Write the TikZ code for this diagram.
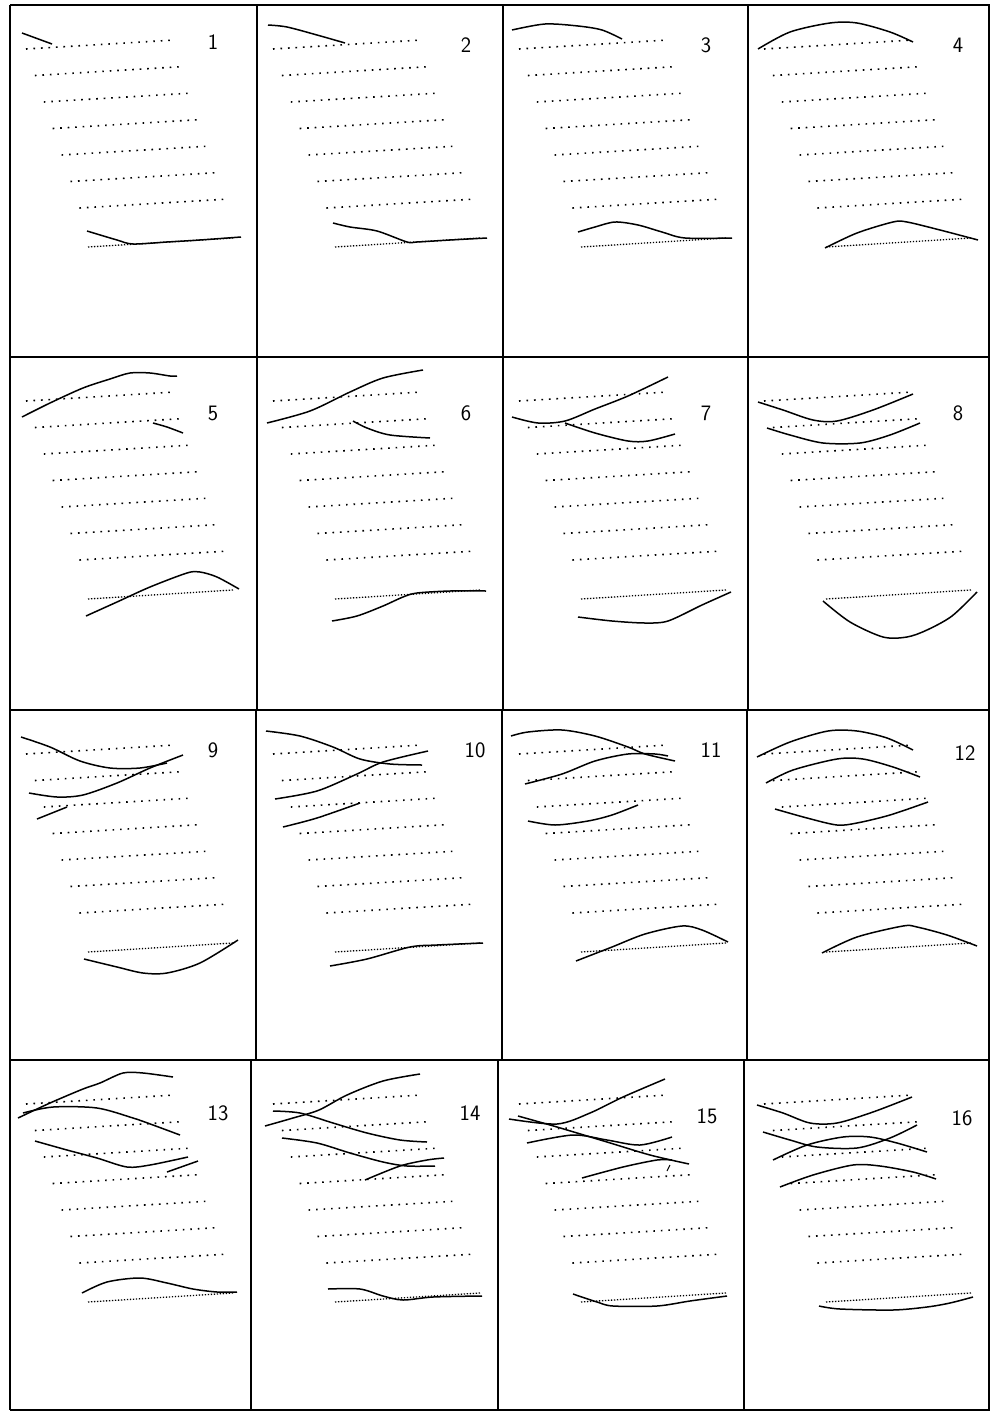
\documentclass[tikz,border=0pt]{standalone}
\usepackage{amsmath}
\begin{document}
\begin{tikzpicture}[x=1pt,y=-1pt,
    dotrow/.style={line width=1.6pt,dash pattern=on 1.6pt off 5.9pt},
    dotbase/.style={line width=1.3pt,dash pattern=on 1.3pt off 1.7pt},
    trace/.style={line width=1.5pt,smooth,tension=0.5},
    panelline/.style={line width=1.4pt},
    num/.style={font=\fontsize{22}{22}\selectfont\sffamily}]
  \useasboundingbox (0,0) rectangle (990,1411);
  \fill[white] (0,0) rectangle (990,1411);
  % frame
  \foreach \y in {5,357,710,1060,1410} \draw[panelline] (10,\y) -- (990,\y);
  \foreach \ya/\yb/\xa/\xb/\xc in {5/357/257/503/748,357/710/257/503/748,
    710/1060/256/502/747,1060/1410/251/498/744} {
    \draw[panelline] (10,\ya) -- (10,\yb) (\xa,\ya) -- (\xa,\yb)
    (\xb,\ya) -- (\xb,\yb) (\xc,\ya) -- (\xc,\yb) (989,\ya) -- (989,\yb); }
  % dotted rows and numbers
  \foreach \px/\py/\nx/\ny/\t in {10/5/203/37/1,257/5/209/40/2,503/5/203/40/3,
    748/5/210/40/4,10/357/203/56/5,257/357/209/56/6,503/357/203/56/7,
    748/357/210/56/8,10/710/203/40/9,257/710/218/40/10,503/710/208/40/11,
    748/710/217/43/12,10/1060/208/53/13,257/1060/213/53/14,
    503/1060/204/56/15,748/1060/214/58/16} {
    \begin{scope}[shift={(\px,\py)}]
      \foreach \k in {0,...,6}
        \draw[dotrow] ({16+8.9*\k},{44+26.5*\k}) -- ++(149,-9);
      \draw[dotbase] (78,242) -- (223,233);
      \node[num] (n\t) at (\nx,\ny) {\t};
    \end{scope} }
  % 1
  \begin{scope}[shift={(10,5)}]
    \draw[trace] plot coordinates {(12,28) (42,39)};
    \draw[trace] plot coordinates {(77,226) (107,235) (123,239) (157,237) (190,235) (231,232)};
  \end{scope}
  % 2
  \begin{scope}[shift={(257,5)}]
    \draw[trace] plot coordinates {(11,20) (30,22) (60,30) (88,38)};
    \draw[trace] plot coordinates {(76,218) (93,222) (120,226) (150,237) (160,237) (193,235) (230,233)};
  \end{scope}
  % 3
  \begin{scope}[shift={(503,5)}]
    \draw[trace] plot coordinates {(9,25) (42,19) (75,21) (99,25) (119,34)};
    \draw[trace] plot coordinates {(75,227) (92,222) (112,217) (135,220) (159,227) (182,233) (229,233)};
  \end{scope}
  % 4
  \begin{scope}[shift={(748,5)}]
    \draw[trace] plot coordinates {(10,44) (42,27) (82,18) (109,18) (142,27) (165,37)};
    \draw[trace] plot coordinates {(77,243) (109,228) (145,217) (159,217) (192,225) (230,235)};
  \end{scope}
  % 5
  \begin{scope}[shift={(10,357)}]
    \draw[trace] plot coordinates {(12,60) (40,46) (73,31) (100,22) (120,16) (140,16) (160,19) (167,19)};
    \draw[trace] plot coordinates {(143,66) (157,70) (173,76)};
    \draw[trace] plot coordinates {(76,259) (107,245) (140,230) (177,216) (190,215) (207,220) (229,232)};
  \end{scope}
  % 6
  \begin{scope}[shift={(257,357)}]
    \draw[trace] plot coordinates {(10,66) (53,54) (93,35) (126,21) (166,13)};
    \draw[trace] plot coordinates {(96,64) (110,71) (133,78) (173,81)};
    \draw[trace] plot coordinates {(75,264) (100,259) (126,249) (146,240) (160,236) (193,234) (229,234)};
  \end{scope}
  % 7
  \begin{scope}[shift={(503,357)}]
    \draw[trace] plot coordinates {(9,60) (35,66) (62,64) (92,52) (125,39) (165,20)};
    \draw[trace] plot coordinates {(62,66) (92,76) (125,84) (145,84) (172,77)};
    \draw[trace] plot coordinates {(75,260) (109,264) (142,266) (165,264) (199,248) (228,235)};
  \end{scope}
  % 8
  \begin{scope}[shift={(748,357)}]
    \draw[trace] plot coordinates {(10,45) (35,53) (65,63) (89,64) (125,53) (165,37)};
    \draw[trace] plot coordinates {(19,71) (42,78) (75,86) (112,86) (142,78) (172,66)};
    \draw[trace] plot coordinates {(75,244) (102,265) (135,280) (159,280) (179,273) (204,259) (229,235)};
  \end{scope}
  % 9
  \begin{scope}[shift={(10,710)}]
    \draw[trace] plot coordinates {(11,27) (40,37) (70,51) (100,58) (130,58) (157,53)};
    \draw[trace] plot coordinates {(19,83) (47,87) (73,85) (107,73) (140,58) (173,45)};
    \draw[trace] plot coordinates {(27,109) (57,97)};
    \draw[trace] plot coordinates {(74,249) (107,257) (133,263) (157,263) (190,253) (228,230)};
  \end{scope}
  % 10
  \begin{scope}[shift={(257,710)}]
    \draw[trace] plot coordinates {(9,21) (43,26) (76,37) (103,49) (133,54) (165,55)};
    \draw[trace] plot coordinates {(18,89) (60,81) (100,64) (126,52) (171,41)};
    \draw[trace] plot coordinates {(26,117) (60,108) (103,93)};
    \draw[trace] plot coordinates {(73,256) (110,249) (153,237) (180,235) (226,233)};
  \end{scope}
  % 11
  \begin{scope}[shift={(503,710)}]
    \draw[trace] plot coordinates {(8,26) (25,22) (59,20) (92,26) (125,37) (142,44) (172,51)};
    \draw[trace] plot coordinates {(22,74) (59,64) (92,51) (125,44) (152,44) (165,46)};
    \draw[trace] plot coordinates {(25,111) (52,115) (85,111) (109,105) (135,95)};
    \draw[trace] plot coordinates {(73,251) (109,237) (142,224) (179,216) (199,220) (225,232)};
  \end{scope}
  % 12
  \begin{scope}[shift={(748,710)}]
    \draw[trace] plot coordinates {(9,47) (42,32) (80,21) (109,21) (139,28) (165,40)};
    \draw[trace] plot coordinates {(18,73) (45,60) (89,49) (115,49) (145,57) (172,67)};
    \draw[trace] plot coordinates {(27,99) (59,108) (89,115) (109,113) (142,105) (180,92)};
    \draw[trace] plot coordinates {(74,243) (109,227) (155,216) (169,217) (199,225) (229,236)};
  \end{scope}
  % 13
  \begin{scope}[shift={(10,1060)}]
    \draw[trace] plot coordinates {(8,58) (40,43) (73,29) (90,23) (113,13) (133,13) (163,17)};
    \draw[trace] plot coordinates {(13,53) (43,47) (87,48) (123,58) (143,65) (170,75)};
    \draw[trace] plot coordinates {(25,81) (57,90) (87,98) (117,107) (140,105) (178,97)};
    \draw[trace] plot coordinates {(157,112) (188,101)};
    \draw[trace] plot coordinates {(72,233) (97,222) (130,218) (157,223) (183,229) (207,232) (227,232)};
  \end{scope}
  % 14
  \begin{scope}[shift={(257,1060)}]
    \draw[trace] plot coordinates {(8,66) (36,58) (62,50) (90,35) (126,21) (163,14)};
    \draw[trace] plot coordinates {(16,51) (43,53) (76,63) (110,73) (143,80) (170,82)};
    \draw[trace] plot coordinates {(25,78) (60,83) (93,93) (126,102) (150,106) (178,106)};
    \draw[trace] plot coordinates {(108,120) (143,106) (170,100) (187,98)};
    \draw[trace] plot coordinates {(71,229) (103,229) (126,236) (146,240) (176,237) (225,236)};
  \end{scope}
  % 15
  \begin{scope}[shift={(503,1060)}]
    \draw[trace] plot coordinates {(6,59) (54,64) (87,53) (120,37) (162,19)};
    \draw[trace] plot coordinates {(15,56) (54,67) (104,82) (147,95) (186,104)};
    \draw[trace] plot coordinates {(24,83) (70,75) (104,80) (137,85) (169,77)};
    \draw[trace] plot coordinates {(79,118) (120,107) (154,100) (169,100)};
    \draw[line width=1pt] (167,105) -- (164,111);
    \draw[trace] plot coordinates {(70,234) (94,242) (110,246) (154,246) (187,241) (224,236)};
  \end{scope}
  % 16
  \begin{scope}[shift={(748,1060)}]
    \draw[trace] plot coordinates {(9,45) (35,53) (62,63) (89,63) (125,52) (164,37)};
    \draw[trace] plot coordinates {(15,72) (42,80) (69,87) (109,88) (142,78) (169,65)};
    \draw[trace] plot coordinates {(25,100) (59,85) (95,77) (122,77) (149,83) (179,92)};
    \draw[trace] plot coordinates {(32,127) (65,115) (105,105) (132,106) (165,112) (188,119)};
    \draw[trace] plot coordinates {(71,246) (92,249) (145,250) (179,247) (202,243) (225,237)};
  \end{scope}
\end{tikzpicture}
\end{document}
